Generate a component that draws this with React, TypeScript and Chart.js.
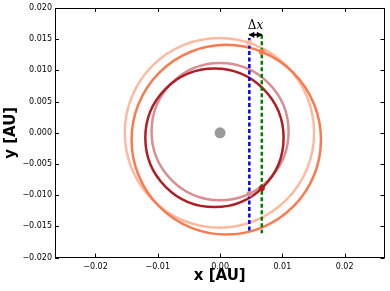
import React, { useEffect, useRef } from "react";
import { Chart, registerables } from "chart.js";

Chart.register(...registerables);

// Axis ranges and ticks (AU)
const xRange = [-0.0265, 0.0264];
const yRange = [-0.02, 0.02];
const xTicks = [-0.02, -0.01, 0.0, 0.01, 0.02];
const yTicks = [-0.02, -0.015, -0.01, -0.005, 0.0, 0.005, 0.01, 0.015, 0.02];

// Orbits: centre x, centre y, radius (AU)
const orbitCx = [-0.0001, 0.001, 0.0, -0.0009];
const orbitCy = [0.0, -0.0011, 0.0002, -0.0008];
const orbitR = [0.0152, 0.0152, 0.011, 0.0111];
const orbitColors = ["#fcbba1", "#fb7a4e", "#d98e92", "#b01e24"];

// Central star
const starX = [0.0];
const starY = [0.0];

// Dashed vertical lines
const dashX = [0.0047, 0.0067];
const dashTop = [0.0152, 0.0157];
const dashBottom = [-0.0158, -0.0161];
const dashColors = ["#0000ff", "#008000"];

// Marked positions on the orbits
const markerX = [0.0047, 0.0067, 0.0047, 0.0067];
const markerY = [0.0144, 0.013, -0.0098, -0.0089];

// Delta-x arrow and label
const arrowX = [0.0047, 0.0067];
const arrowY = [0.0157, 0.0157];
const labelX = 0.0057;
const labelY = 0.0171;

const fmt = (v: number, d: number) => {
  const s = Math.abs(v) < 1e-12 ? (0).toFixed(d) : v.toFixed(d);
  return s.replace("-", "\u2212");
};

const customPlugin = {
  id: "custom",
  beforeDatasetsDraw(chart: any) {
    const { ctx, chartArea, scales } = chart;
    const x = scales.x;
    const y = scales.y;
    ctx.save();
    ctx.beginPath();
    ctx.rect(chartArea.left, chartArea.top, chartArea.right - chartArea.left, chartArea.bottom - chartArea.top);
    ctx.clip();
    for (let i = 0; i < orbitCx.length; i++) {
      const cx = x.getPixelForValue(orbitCx[i]);
      const cy = y.getPixelForValue(orbitCy[i]);
      const rx = Math.abs(x.getPixelForValue(orbitCx[i] + orbitR[i]) - cx);
      const ry = Math.abs(y.getPixelForValue(orbitCy[i] + orbitR[i]) - cy);
      ctx.beginPath();
      ctx.ellipse(cx, cy, rx, ry, 0, 0, Math.PI * 2);
      ctx.strokeStyle = orbitColors[i];
      ctx.lineWidth = 2.5;
      ctx.stroke();
    }
    ctx.restore();
  },
  afterDatasetsDraw(chart: any) {
    const { ctx, scales } = chart;
    const x = scales.x;
    const y = scales.y;
    ctx.save();
    // arrowheads
    const x1 = x.getPixelForValue(arrowX[0]);
    const x2 = x.getPixelForValue(arrowX[1]);
    const py = y.getPixelForValue(arrowY[0]);
    ctx.fillStyle = "#000";
    ctx.beginPath();
    ctx.moveTo(x1 - 0.5, py);
    ctx.lineTo(x1 + 5, py - 3.2);
    ctx.lineTo(x1 + 5, py + 3.2);
    ctx.closePath();
    ctx.fill();
    ctx.beginPath();
    ctx.moveTo(x2 + 0.5, py);
    ctx.lineTo(x2 - 5, py - 3.2);
    ctx.lineTo(x2 - 5, py + 3.2);
    ctx.closePath();
    ctx.fill();
    // label
    const lx = x.getPixelForValue(labelX);
    const ly = y.getPixelForValue(labelY);
    ctx.textBaseline = "middle";
    ctx.fillStyle = "#000";
    ctx.font = "12px 'DejaVu Serif'";
    const w1 = ctx.measureText("\u0394").width;
    ctx.font = "italic 12px 'DejaVu Serif'";
    const w2 = ctx.measureText("x").width;
    const start = lx - (w1 + w2) / 2;
    ctx.textAlign = "left";
    ctx.font = "12px 'DejaVu Serif'";
    ctx.fillText("\u0394", start, ly);
    ctx.font = "italic 12px 'DejaVu Serif'";
    ctx.fillText("x", start + w1, ly);
    ctx.restore();
  },
  afterDraw(chart: any) {
    const { ctx, chartArea, scales } = chart;
    const x = scales.x;
    const y = scales.y;
    const { left, right, top, bottom } = chartArea;
    ctx.save();
    ctx.strokeStyle = "#000";
    ctx.lineWidth = 1;
    ctx.strokeRect(Math.round(left) + 0.5, Math.round(top) + 0.5, Math.round(right - left) - 1, Math.round(bottom - top) - 1);
    const tl = 4;
    ctx.beginPath();
    for (const v of xTicks) {
      const px = Math.round(x.getPixelForValue(v)) + 0.5;
      ctx.moveTo(px, bottom);
      ctx.lineTo(px, bottom - tl);
      ctx.moveTo(px, top);
      ctx.lineTo(px, top + tl);
    }
    for (const v of yTicks) {
      const py = Math.round(y.getPixelForValue(v)) + 0.5;
      ctx.moveTo(left, py);
      ctx.lineTo(left + tl, py);
      ctx.moveTo(right, py);
      ctx.lineTo(right - tl, py);
    }
    ctx.stroke();
    ctx.restore();
  },
};

export default function App() {
  const canvasRef = useRef<HTMLCanvasElement | null>(null);

  useEffect(() => {
    const canvas = canvasRef.current;
    if (!canvas) return;

    const datasets: any[] = [];
    // markers on top
    for (let i = 0; i < markerX.length; i++) {
      datasets.push({
        label: "marker" + i,
        data: [{ x: markerX[i], y: markerY[i] }],
        showLine: false,
        pointRadius: 3,
        pointStyle: "circle",
        backgroundColor: orbitColors[i],
        borderColor: orbitColors[i],
        borderWidth: 0,
        order: 0,
      });
    }
    for (let i = 0; i < dashX.length; i++) {
      datasets.push({
        label: "dash" + i,
        data: [
          { x: dashX[i], y: dashTop[i] },
          { x: dashX[i], y: dashBottom[i] },
        ],
        showLine: true,
        borderColor: dashColors[i],
        borderDash: [4, 2.5],
        borderWidth: 2.5,
        pointRadius: 0,
        order: 2,
      });
    }
    datasets.push({
      label: "arrow",
      data: [
        { x: arrowX[0], y: arrowY[0] },
        { x: arrowX[1], y: arrowY[1] },
      ],
      showLine: true,
      borderColor: "#000",
      borderWidth: 2,
      pointRadius: 0,
      order: 1,
    });
    datasets.push({
      label: "star",
      data: starX.map((v, i) => ({ x: v, y: starY[i] })),
      showLine: false,
      pointRadius: 5.5,
      backgroundColor: "#9a9a9a",
      borderColor: "#9a9a9a",
      borderWidth: 0,
      order: 3,
    });

    const tickFont = { family: "'DejaVu Sans'", size: 8 };
    const titleFont = { family: "'DejaVu Sans'", size: 15, weight: "bold" as const };

    const chart = new Chart(canvas, {
      type: "scatter",
      data: { datasets },
      options: {
        responsive: false,
        animation: false,
        devicePixelRatio: 1,
        layout: { padding: { left: 0, top: 8, right: 5, bottom: 0 } },
        plugins: { legend: { display: false }, tooltip: { enabled: false } },
        scales: {
          x: {
            type: "linear",
            min: xRange[0],
            max: xRange[1],
            grid: { display: false, drawTicks: false },
            border: { display: false },
            afterBuildTicks: (s: any) => {
              s.ticks = xTicks.map((v) => ({ value: v }));
            },
            afterFit: (s: any) => {
              s.height = 33.4;
            },
            ticks: {
              font: tickFont,
              color: "#000",
              padding: 5,
              maxRotation: 0,
              autoSkip: false,
              callback: (v: any) => fmt(Number(v), 2),
            },
            title: {
              display: true,
              text: "x [AU]",
              font: titleFont,
              color: "#000",
              padding: { top: 0, bottom: 6 },
            },
          },
          y: {
            type: "linear",
            min: yRange[0],
            max: yRange[1],
            grid: { display: false, drawTicks: false },
            border: { display: false },
            afterBuildTicks: (s: any) => {
              s.ticks = yTicks.map((v) => ({ value: v }));
            },
            afterFit: (s: any) => {
              s.width = 55;
            },
            ticks: {
              font: tickFont,
              color: "#000",
              padding: 3,
              autoSkip: false,
              callback: (v: any) => fmt(Number(v), 3),
            },
            title: {
              display: true,
              text: "y [AU]",
              font: titleFont,
              color: "#000",
              padding: { top: 2, bottom: 0 },
            },
          },
        },
      },
      plugins: [customPlugin],
    });

    return () => chart.destroy();
  }, []);

  return (
    <div style={{ position: "absolute", left: 0, top: 0, width: 390, height: 291, background: "#fff" }}>
      <canvas ref={canvasRef} width={390} height={291} style={{ display: "block" }} />
    </div>
  );
}
